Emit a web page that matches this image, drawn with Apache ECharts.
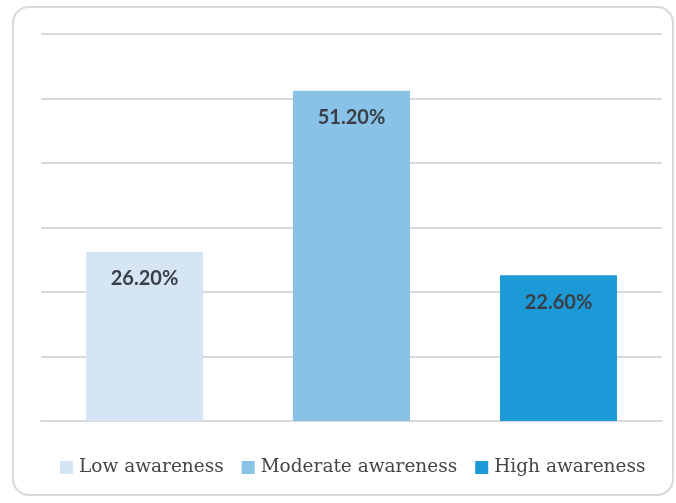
<!DOCTYPE html>
<html>
<head>
<meta charset="utf-8">
<script src="https://cdn.jsdelivr.net/npm/echarts@6/dist/echarts.min.js"></script>
<style>
  html, body { margin: 0; padding: 0; background: #ffffff; }
  #chart { width: 676px; height: 503px; }
</style>
</head>
<body>
<div id="chart"></div>
<script>
// Awareness levels and their shares (%)
const categories = ['Low awareness', 'Moderate awareness', 'High awareness'];
const shares = [26.2, 51.2, 22.6];
const barColors = ['#d5e5f4', '#88c2e7', '#1b9ad7'];

const yMin = 0, yMax = 60, yStep = 10;

const chart = echarts.init(document.getElementById('chart'), null, { renderer: 'canvas' });

// One series per level so each gets its own legend entry; stacking keeps them centred
const series = categories.map((name, i) => ({
  name: name,
  type: 'bar',
  stack: 'all',
  barWidth: '56.5%',
  itemStyle: { color: barColors[i] },
  data: categories.map((_, j) => (j === i ? shares[i] : '-')),
  label: {
    show: true,
    position: 'insideTop',
    distance: 17,
    formatter: p => p.value.toFixed(2) + '%',
    fontFamily: 'Lato',
    fontWeight: 'bold',
    fontSize: 20,
    color: '#3a3f47'
  }
}));

chart.setOption({
  animation: false,
  backgroundColor: '#ffffff',
  graphic: [{
    type: 'rect',
    shape: { x: 13, y: 7, width: 660, height: 488, r: 16 },
    style: { fill: 'none', stroke: '#d9d9d9', lineWidth: 2 },
    z: -1
  }],
  grid: { left: 41, right: 14, top: 34, bottom: 82, containLabel: false },
  legend: {
    bottom: 21,
    left: 55,
    icon: 'rect',
    itemWidth: 13,
    itemHeight: 13,
    itemGap: 18,
    textStyle: { fontFamily: 'DejaVu Serif', fontSize: 18.5, color: '#454545', padding: [0, 0, 0, 1] },
    data: categories
  },
  xAxis: {
    type: 'category',
    data: categories,
    axisLine: { lineStyle: { color: '#d9d9d9', width: 2 } },
    axisTick: { show: false },
    axisLabel: { show: false }
  },
  yAxis: {
    type: 'value',
    min: yMin,
    max: yMax,
    interval: yStep,
    axisLine: { show: false },
    axisTick: { show: false },
    axisLabel: { show: false },
    splitLine: { lineStyle: { color: '#d9d9d9', width: 2 } }
  },
  series: series
});
</script>
</body>
</html>
